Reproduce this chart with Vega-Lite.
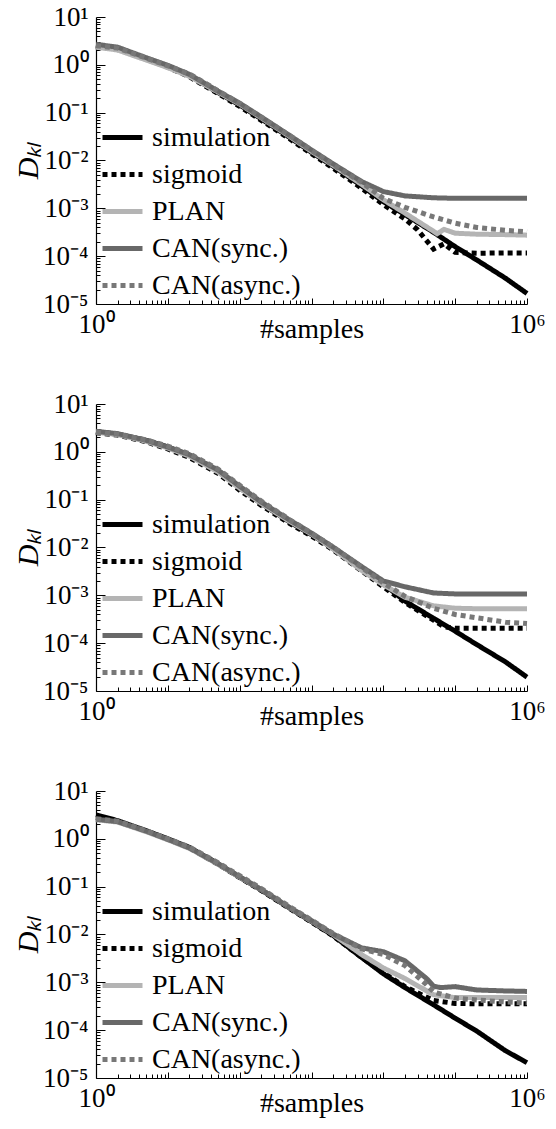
{
  "$schema": "https://vega.github.io/schema/vega-lite/v6.json",
  "autosize": {"type": "none"},
  "padding": {"left": 96, "top": 17, "right": 460, "bottom": 1112},
  "background": "white",
  "config": {
    "view": {"stroke": null},
    "font": "Liberation Serif",
    "axis": {"grid": false, "domainColor": "black", "domainWidth": 1.2, "tickColor": "black", "tickWidth": 1, "labelFont": "Liberation Serif", "labelFontSize": 27, "labelColor": "black", "titleFont": "Liberation Serif", "titleColor": "black", "titleFontWeight": "normal", "labelOverlap": false, "labelFlush": false},
    "legend": {"orient": "none", "legendX": 4, "legendY": 98, "symbolType": "stroke", "symbolSize": 1600, "symbolStrokeWidth": 5, "labelFont": "Liberation Serif", "labelFontSize": 28, "labelColor": "black", "labelOffset": 7, "rowPadding": -2.6, "padding": 0, "labelLimit": 300}
  },
  "datasets": {
    "d": [
      {"panel":1,"method":"simulation","n":1,"kl":2.57},{"panel":1,"method":"simulation","n":2,"kl":2.19},{"panel":1,"method":"simulation","n":5,"kl":1.35},{"panel":1,"method":"simulation","n":10,"kl":0.933},{"panel":1,"method":"simulation","n":20,"kl":0.603},{"panel":1,"method":"simulation","n":50,"kl":0.263},{"panel":1,"method":"simulation","n":100,"kl":0.145},{"panel":1,"method":"simulation","n":200,"kl":0.0741},{"panel":1,"method":"simulation","n":500,"kl":0.0302},{"panel":1,"method":"simulation","n":1000,"kl":0.0148},{"panel":1,"method":"simulation","n":2000,"kl":0.00759},{"panel":1,"method":"simulation","n":5000,"kl":0.00295},{"panel":1,"method":"simulation","n":10000,"kl":0.00138},{"panel":1,"method":"simulation","n":20000,"kl":0.000741},{"panel":1,"method":"simulation","n":50000,"kl":0.000316},{"panel":1,"method":"simulation","n":100000,"kl":0.000158},{"panel":1,"method":"simulation","n":200000,"kl":0.0000832},{"panel":1,"method":"simulation","n":500000,"kl":0.0000347},{"panel":1,"method":"simulation","n":1000000,"kl":0.0000166},
      {"panel":1,"method":"sigmoid","n":1,"kl":2.40},{"panel":1,"method":"sigmoid","n":2,"kl":2.09},{"panel":1,"method":"sigmoid","n":5,"kl":1.32},{"panel":1,"method":"sigmoid","n":10,"kl":0.891},{"panel":1,"method":"sigmoid","n":20,"kl":0.562},{"panel":1,"method":"sigmoid","n":50,"kl":0.251},{"panel":1,"method":"sigmoid","n":100,"kl":0.135},{"panel":1,"method":"sigmoid","n":200,"kl":0.0692},{"panel":1,"method":"sigmoid","n":500,"kl":0.0282},{"panel":1,"method":"sigmoid","n":1000,"kl":0.0138},{"panel":1,"method":"sigmoid","n":2000,"kl":0.00692},{"panel":1,"method":"sigmoid","n":5000,"kl":0.00263},{"panel":1,"method":"sigmoid","n":10000,"kl":0.00120},{"panel":1,"method":"sigmoid","n":20000,"kl":0.000603},{"panel":1,"method":"sigmoid","n":30000,"kl":0.000355},{"panel":1,"method":"sigmoid","n":50000,"kl":0.000141},{"panel":1,"method":"sigmoid","n":70000,"kl":0.000182},{"panel":1,"method":"sigmoid","n":100000,"kl":0.000120},{"panel":1,"method":"sigmoid","n":200000,"kl":0.000115},{"panel":1,"method":"sigmoid","n":500000,"kl":0.000117},{"panel":1,"method":"sigmoid","n":1000000,"kl":0.000117},
      {"panel":1,"method":"PLAN","n":1,"kl":2.34},{"panel":1,"method":"PLAN","n":2,"kl":2.04},{"panel":1,"method":"PLAN","n":5,"kl":1.26},{"panel":1,"method":"PLAN","n":10,"kl":0.871},{"panel":1,"method":"PLAN","n":20,"kl":0.575},{"panel":1,"method":"PLAN","n":50,"kl":0.269},{"panel":1,"method":"PLAN","n":100,"kl":0.151},{"panel":1,"method":"PLAN","n":200,"kl":0.0776},{"panel":1,"method":"PLAN","n":500,"kl":0.0316},{"panel":1,"method":"PLAN","n":1000,"kl":0.0155},{"panel":1,"method":"PLAN","n":2000,"kl":0.00794},{"panel":1,"method":"PLAN","n":5000,"kl":0.00316},{"panel":1,"method":"PLAN","n":10000,"kl":0.00151},{"panel":1,"method":"PLAN","n":20000,"kl":0.000794},{"panel":1,"method":"PLAN","n":50000,"kl":0.000331},{"panel":1,"method":"PLAN","n":56000,"kl":0.000295},{"panel":1,"method":"PLAN","n":70000,"kl":0.000363},{"panel":1,"method":"PLAN","n":100000,"kl":0.000302},{"panel":1,"method":"PLAN","n":200000,"kl":0.000288},{"panel":1,"method":"PLAN","n":500000,"kl":0.000282},{"panel":1,"method":"PLAN","n":1000000,"kl":0.000275},
      {"panel":1,"method":"CAN(sync.)","n":1,"kl":2.69},{"panel":1,"method":"CAN(sync.)","n":2,"kl":2.34},{"panel":1,"method":"CAN(sync.)","n":5,"kl":1.41},{"panel":1,"method":"CAN(sync.)","n":10,"kl":0.977},{"panel":1,"method":"CAN(sync.)","n":20,"kl":0.631},{"panel":1,"method":"CAN(sync.)","n":50,"kl":0.282},{"panel":1,"method":"CAN(sync.)","n":100,"kl":0.158},{"panel":1,"method":"CAN(sync.)","n":200,"kl":0.0813},{"panel":1,"method":"CAN(sync.)","n":500,"kl":0.0331},{"panel":1,"method":"CAN(sync.)","n":1000,"kl":0.0166},{"panel":1,"method":"CAN(sync.)","n":2000,"kl":0.00851},{"panel":1,"method":"CAN(sync.)","n":5000,"kl":0.00363},{"panel":1,"method":"CAN(sync.)","n":10000,"kl":0.00224},{"panel":1,"method":"CAN(sync.)","n":20000,"kl":0.00182},{"panel":1,"method":"CAN(sync.)","n":50000,"kl":0.00166},{"panel":1,"method":"CAN(sync.)","n":100000,"kl":0.00162},{"panel":1,"method":"CAN(sync.)","n":200000,"kl":0.00162},{"panel":1,"method":"CAN(sync.)","n":500000,"kl":0.00162},{"panel":1,"method":"CAN(sync.)","n":1000000,"kl":0.00162},
      {"panel":1,"method":"CAN(async.)","n":1,"kl":2.51},{"panel":1,"method":"CAN(async.)","n":2,"kl":2.24},{"panel":1,"method":"CAN(async.)","n":5,"kl":1.38},{"panel":1,"method":"CAN(async.)","n":10,"kl":0.955},{"panel":1,"method":"CAN(async.)","n":20,"kl":0.646},{"panel":1,"method":"CAN(async.)","n":50,"kl":0.288},{"panel":1,"method":"CAN(async.)","n":100,"kl":0.155},{"panel":1,"method":"CAN(async.)","n":200,"kl":0.0794},{"panel":1,"method":"CAN(async.)","n":500,"kl":0.0331},{"panel":1,"method":"CAN(async.)","n":1000,"kl":0.0162},{"panel":1,"method":"CAN(async.)","n":2000,"kl":0.00813},{"panel":1,"method":"CAN(async.)","n":5000,"kl":0.00347},{"panel":1,"method":"CAN(async.)","n":10000,"kl":0.00162},{"panel":1,"method":"CAN(async.)","n":20000,"kl":0.00105},{"panel":1,"method":"CAN(async.)","n":50000,"kl":0.000661},{"panel":1,"method":"CAN(async.)","n":100000,"kl":0.000490},{"panel":1,"method":"CAN(async.)","n":200000,"kl":0.000398},{"panel":1,"method":"CAN(async.)","n":500000,"kl":0.000347},{"panel":1,"method":"CAN(async.)","n":1000000,"kl":0.000324},

      {"panel":2,"method":"simulation","n":1,"kl":2.63},{"panel":2,"method":"simulation","n":2,"kl":2.34},{"panel":2,"method":"simulation","n":5,"kl":1.74},{"panel":2,"method":"simulation","n":10,"kl":1.26},{"panel":2,"method":"simulation","n":20,"kl":0.851},{"panel":2,"method":"simulation","n":50,"kl":0.398},{"panel":2,"method":"simulation","n":100,"kl":0.178},{"panel":2,"method":"simulation","n":200,"kl":0.0832},{"panel":2,"method":"simulation","n":500,"kl":0.0339},{"panel":2,"method":"simulation","n":1000,"kl":0.0186},{"panel":2,"method":"simulation","n":2000,"kl":0.00955},{"panel":2,"method":"simulation","n":5000,"kl":0.00355},{"panel":2,"method":"simulation","n":10000,"kl":0.00174},{"panel":2,"method":"simulation","n":20000,"kl":0.000759},{"panel":2,"method":"simulation","n":50000,"kl":0.000331},{"panel":2,"method":"simulation","n":100000,"kl":0.000178},{"panel":2,"method":"simulation","n":200000,"kl":0.0000933},{"panel":2,"method":"simulation","n":500000,"kl":0.0000407},{"panel":2,"method":"simulation","n":1000000,"kl":0.0000195},
      {"panel":2,"method":"sigmoid","n":1,"kl":2.51},{"panel":2,"method":"sigmoid","n":2,"kl":2.24},{"panel":2,"method":"sigmoid","n":5,"kl":1.62},{"panel":2,"method":"sigmoid","n":10,"kl":1.15},{"panel":2,"method":"sigmoid","n":20,"kl":0.759},{"panel":2,"method":"sigmoid","n":50,"kl":0.355},{"panel":2,"method":"sigmoid","n":100,"kl":0.158},{"panel":2,"method":"sigmoid","n":200,"kl":0.0759},{"panel":2,"method":"sigmoid","n":500,"kl":0.0316},{"panel":2,"method":"sigmoid","n":1000,"kl":0.0174},{"panel":2,"method":"sigmoid","n":2000,"kl":0.00891},{"panel":2,"method":"sigmoid","n":5000,"kl":0.00324},{"panel":2,"method":"sigmoid","n":10000,"kl":0.00151},{"panel":2,"method":"sigmoid","n":20000,"kl":0.000708},{"panel":2,"method":"sigmoid","n":50000,"kl":0.000302},{"panel":2,"method":"sigmoid","n":70000,"kl":0.000219},{"panel":2,"method":"sigmoid","n":100000,"kl":0.000204},{"panel":2,"method":"sigmoid","n":200000,"kl":0.000204},{"panel":2,"method":"sigmoid","n":500000,"kl":0.000204},{"panel":2,"method":"sigmoid","n":1000000,"kl":0.000204},
      {"panel":2,"method":"PLAN","n":1,"kl":2.57},{"panel":2,"method":"PLAN","n":2,"kl":2.29},{"panel":2,"method":"PLAN","n":5,"kl":1.66},{"panel":2,"method":"PLAN","n":10,"kl":1.20},{"panel":2,"method":"PLAN","n":20,"kl":0.813},{"panel":2,"method":"PLAN","n":50,"kl":0.380},{"panel":2,"method":"PLAN","n":100,"kl":0.174},{"panel":2,"method":"PLAN","n":200,"kl":0.0832},{"panel":2,"method":"PLAN","n":500,"kl":0.0347},{"panel":2,"method":"PLAN","n":1000,"kl":0.0191},{"panel":2,"method":"PLAN","n":2000,"kl":0.00933},{"panel":2,"method":"PLAN","n":5000,"kl":0.00331},{"panel":2,"method":"PLAN","n":10000,"kl":0.00166},{"panel":2,"method":"PLAN","n":20000,"kl":0.000912},{"panel":2,"method":"PLAN","n":50000,"kl":0.000603},{"panel":2,"method":"PLAN","n":100000,"kl":0.000537},{"panel":2,"method":"PLAN","n":200000,"kl":0.000525},{"panel":2,"method":"PLAN","n":500000,"kl":0.000525},{"panel":2,"method":"PLAN","n":1000000,"kl":0.000525},
      {"panel":2,"method":"CAN(sync.)","n":1,"kl":2.69},{"panel":2,"method":"CAN(sync.)","n":2,"kl":2.40},{"panel":2,"method":"CAN(sync.)","n":5,"kl":1.74},{"panel":2,"method":"CAN(sync.)","n":10,"kl":1.26},{"panel":2,"method":"CAN(sync.)","n":20,"kl":0.871},{"panel":2,"method":"CAN(sync.)","n":50,"kl":0.417},{"panel":2,"method":"CAN(sync.)","n":100,"kl":0.191},{"panel":2,"method":"CAN(sync.)","n":200,"kl":0.0891},{"panel":2,"method":"CAN(sync.)","n":500,"kl":0.0372},{"panel":2,"method":"CAN(sync.)","n":1000,"kl":0.0200},{"panel":2,"method":"CAN(sync.)","n":2000,"kl":0.0102},{"panel":2,"method":"CAN(sync.)","n":5000,"kl":0.00398},{"panel":2,"method":"CAN(sync.)","n":10000,"kl":0.00200},{"panel":2,"method":"CAN(sync.)","n":20000,"kl":0.00151},{"panel":2,"method":"CAN(sync.)","n":50000,"kl":0.00112},{"panel":2,"method":"CAN(sync.)","n":100000,"kl":0.00107},{"panel":2,"method":"CAN(sync.)","n":200000,"kl":0.00107},{"panel":2,"method":"CAN(sync.)","n":500000,"kl":0.00107},{"panel":2,"method":"CAN(sync.)","n":1000000,"kl":0.00107},
      {"panel":2,"method":"CAN(async.)","n":1,"kl":2.57},{"panel":2,"method":"CAN(async.)","n":2,"kl":2.34},{"panel":2,"method":"CAN(async.)","n":5,"kl":1.78},{"panel":2,"method":"CAN(async.)","n":10,"kl":1.32},{"panel":2,"method":"CAN(async.)","n":20,"kl":0.912},{"panel":2,"method":"CAN(async.)","n":50,"kl":0.437},{"panel":2,"method":"CAN(async.)","n":100,"kl":0.200},{"panel":2,"method":"CAN(async.)","n":200,"kl":0.0933},{"panel":2,"method":"CAN(async.)","n":500,"kl":0.0380},{"panel":2,"method":"CAN(async.)","n":1000,"kl":0.0200},{"panel":2,"method":"CAN(async.)","n":2000,"kl":0.0102},{"panel":2,"method":"CAN(async.)","n":5000,"kl":0.00380},{"panel":2,"method":"CAN(async.)","n":10000,"kl":0.00182},{"panel":2,"method":"CAN(async.)","n":20000,"kl":0.000955},{"panel":2,"method":"CAN(async.)","n":50000,"kl":0.000537},{"panel":2,"method":"CAN(async.)","n":100000,"kl":0.000398},{"panel":2,"method":"CAN(async.)","n":200000,"kl":0.000339},{"panel":2,"method":"CAN(async.)","n":500000,"kl":0.000275},{"panel":2,"method":"CAN(async.)","n":1000000,"kl":0.000257},

      {"panel":3,"method":"simulation","n":1,"kl":3.16},{"panel":3,"method":"simulation","n":2,"kl":2.40},{"panel":3,"method":"simulation","n":5,"kl":1.48},{"panel":3,"method":"simulation","n":10,"kl":1.00},{"panel":3,"method":"simulation","n":20,"kl":0.661},{"panel":3,"method":"simulation","n":50,"kl":0.302},{"panel":3,"method":"simulation","n":100,"kl":0.158},{"panel":3,"method":"simulation","n":200,"kl":0.0851},{"panel":3,"method":"simulation","n":500,"kl":0.0355},{"panel":3,"method":"simulation","n":1000,"kl":0.0186},{"panel":3,"method":"simulation","n":2000,"kl":0.00955},{"panel":3,"method":"simulation","n":5000,"kl":0.00331},{"panel":3,"method":"simulation","n":10000,"kl":0.00151},{"panel":3,"method":"simulation","n":20000,"kl":0.000776},{"panel":3,"method":"simulation","n":50000,"kl":0.000339},{"panel":3,"method":"simulation","n":100000,"kl":0.000178},{"panel":3,"method":"simulation","n":200000,"kl":0.0000955},{"panel":3,"method":"simulation","n":500000,"kl":0.0000372},{"panel":3,"method":"simulation","n":1000000,"kl":0.0000209},
      {"panel":3,"method":"sigmoid","n":1,"kl":2.82},{"panel":3,"method":"sigmoid","n":2,"kl":2.29},{"panel":3,"method":"sigmoid","n":5,"kl":1.45},{"panel":3,"method":"sigmoid","n":10,"kl":0.977},{"panel":3,"method":"sigmoid","n":20,"kl":0.646},{"panel":3,"method":"sigmoid","n":50,"kl":0.295},{"panel":3,"method":"sigmoid","n":100,"kl":0.155},{"panel":3,"method":"sigmoid","n":200,"kl":0.0832},{"panel":3,"method":"sigmoid","n":500,"kl":0.0347},{"panel":3,"method":"sigmoid","n":1000,"kl":0.0182},{"panel":3,"method":"sigmoid","n":2000,"kl":0.00933},{"panel":3,"method":"sigmoid","n":5000,"kl":0.00331},{"panel":3,"method":"sigmoid","n":10000,"kl":0.00158},{"panel":3,"method":"sigmoid","n":20000,"kl":0.000813},{"panel":3,"method":"sigmoid","n":50000,"kl":0.000417},{"panel":3,"method":"sigmoid","n":100000,"kl":0.000363},{"panel":3,"method":"sigmoid","n":200000,"kl":0.000355},{"panel":3,"method":"sigmoid","n":500000,"kl":0.000355},{"panel":3,"method":"sigmoid","n":1000000,"kl":0.000355},
      {"panel":3,"method":"PLAN","n":1,"kl":2.51},{"panel":3,"method":"PLAN","n":2,"kl":2.24},{"panel":3,"method":"PLAN","n":5,"kl":1.41},{"panel":3,"method":"PLAN","n":10,"kl":0.955},{"panel":3,"method":"PLAN","n":20,"kl":0.631},{"panel":3,"method":"PLAN","n":50,"kl":0.295},{"panel":3,"method":"PLAN","n":100,"kl":0.158},{"panel":3,"method":"PLAN","n":200,"kl":0.0871},{"panel":3,"method":"PLAN","n":500,"kl":0.0363},{"panel":3,"method":"PLAN","n":1000,"kl":0.0191},{"panel":3,"method":"PLAN","n":2000,"kl":0.0100},{"panel":3,"method":"PLAN","n":5000,"kl":0.00380},{"panel":3,"method":"PLAN","n":10000,"kl":0.00200},{"panel":3,"method":"PLAN","n":20000,"kl":0.00120},{"panel":3,"method":"PLAN","n":50000,"kl":0.000550},{"panel":3,"method":"PLAN","n":100000,"kl":0.000479},{"panel":3,"method":"PLAN","n":200000,"kl":0.000479},{"panel":3,"method":"PLAN","n":500000,"kl":0.000479},{"panel":3,"method":"PLAN","n":1000000,"kl":0.000479},
      {"panel":3,"method":"CAN(sync.)","n":1,"kl":2.57},{"panel":3,"method":"CAN(sync.)","n":2,"kl":2.29},{"panel":3,"method":"CAN(sync.)","n":5,"kl":1.45},{"panel":3,"method":"CAN(sync.)","n":10,"kl":0.977},{"panel":3,"method":"CAN(sync.)","n":20,"kl":0.646},{"panel":3,"method":"CAN(sync.)","n":50,"kl":0.302},{"panel":3,"method":"CAN(sync.)","n":100,"kl":0.162},{"panel":3,"method":"CAN(sync.)","n":200,"kl":0.0871},{"panel":3,"method":"CAN(sync.)","n":500,"kl":0.0363},{"panel":3,"method":"CAN(sync.)","n":1000,"kl":0.0195},{"panel":3,"method":"CAN(sync.)","n":2000,"kl":0.0102},{"panel":3,"method":"CAN(sync.)","n":5000,"kl":0.00525},{"panel":3,"method":"CAN(sync.)","n":10000,"kl":0.00437},{"panel":3,"method":"CAN(sync.)","n":20000,"kl":0.00282},{"panel":3,"method":"CAN(sync.)","n":40000,"kl":0.00120},{"panel":3,"method":"CAN(sync.)","n":50000,"kl":0.000832},{"panel":3,"method":"CAN(sync.)","n":63000,"kl":0.000776},{"panel":3,"method":"CAN(sync.)","n":100000,"kl":0.000813},{"panel":3,"method":"CAN(sync.)","n":200000,"kl":0.000692},{"panel":3,"method":"CAN(sync.)","n":500000,"kl":0.000661},{"panel":3,"method":"CAN(sync.)","n":1000000,"kl":0.000646},
      {"panel":3,"method":"CAN(async.)","n":1,"kl":2.63},{"panel":3,"method":"CAN(async.)","n":2,"kl":2.34},{"panel":3,"method":"CAN(async.)","n":5,"kl":1.48},{"panel":3,"method":"CAN(async.)","n":10,"kl":1.00},{"panel":3,"method":"CAN(async.)","n":20,"kl":0.676},{"panel":3,"method":"CAN(async.)","n":50,"kl":0.316},{"panel":3,"method":"CAN(async.)","n":100,"kl":0.170},{"panel":3,"method":"CAN(async.)","n":200,"kl":0.0912},{"panel":3,"method":"CAN(async.)","n":500,"kl":0.0380},{"panel":3,"method":"CAN(async.)","n":1000,"kl":0.0200},{"panel":3,"method":"CAN(async.)","n":2000,"kl":0.0105},{"panel":3,"method":"CAN(async.)","n":5000,"kl":0.00501},{"panel":3,"method":"CAN(async.)","n":10000,"kl":0.00380},{"panel":3,"method":"CAN(async.)","n":20000,"kl":0.00224},{"panel":3,"method":"CAN(async.)","n":40000,"kl":0.000891},{"panel":3,"method":"CAN(async.)","n":50000,"kl":0.000631},{"panel":3,"method":"CAN(async.)","n":100000,"kl":0.000468},{"panel":3,"method":"CAN(async.)","n":200000,"kl":0.000427},{"panel":3,"method":"CAN(async.)","n":500000,"kl":0.000389},{"panel":3,"method":"CAN(async.)","n":1000000,"kl":0.000372}
    ]
  },
  "spacing": 100,
  "bounds": "flush",
  "resolve": {"scale": {"color": "independent", "strokeDash": "independent"}, "legend": {"color": "independent", "strokeDash": "independent"}},
  "vconcat": [
    {
      "width": 431, "height": 287,
      "data": {"name": "d"},
      "transform": [{"filter": "datum.panel == 1"}],
      "mark": {"type": "line", "strokeWidth": 5, "strokeCap": "butt"},
      "encoding": {
        "x": {"field": "n", "type": "quantitative", "scale": {"type": "log", "domain": [1, 1000000], "nice": false},
          "axis": {"values": [1,2,3,4,5,6,7,8,9,10,20,30,40,50,60,70,80,90,100,200,300,400,500,600,700,800,900,1000,2000,3000,4000,5000,6000,7000,8000,9000,10000,20000,30000,40000,50000,60000,70000,80000,90000,100000,200000,300000,400000,500000,600000,700000,800000,900000,1000000],
            "labelExpr": "datum.value == 1 ? '10⁰' : datum.value == 1000000 ? '10⁶' : ''",
            "tickSize": {"condition": {"test": "abs(log(datum.value)/LN10 - round(log(datum.value)/LN10)) < 0.0001", "value": -6}, "value": -4},
            "labelPadding": 13, "title": "#samples", "titleFontSize": 28, "titleY": 25, "titleBaseline": "middle"}},
        "y": {"field": "kl", "type": "quantitative", "scale": {"type": "log", "domain": [0.00001, 10], "nice": false},
          "axis": {"values": [0.00001,0.00002,0.00003,0.00004,0.00005,0.00006,0.00007,0.00008,0.00009,0.0001,0.0002,0.0003,0.0004,0.0005,0.0006,0.0007,0.0008,0.0009,0.001,0.002,0.003,0.004,0.005,0.006,0.007,0.008,0.009,0.01,0.02,0.03,0.04,0.05,0.06,0.07,0.08,0.09,0.1,0.2,0.3,0.4,0.5,0.6,0.7,0.8,0.9,1,2,3,4,5,6,7,8,9,10],
            "labelExpr": "datum.value == 10 ? '10¹' : datum.value == 1 ? '10⁰' : datum.value == 0.1 ? '10⁻¹' : datum.value == 0.01 ? '10⁻²' : datum.value == 0.001 ? '10⁻³' : datum.value == 0.0001 ? '10⁻⁴' : datum.value == 0.00001 ? '10⁻⁵' : ''",
            "tickSize": {"condition": {"test": "abs(log(datum.value)/LN10 - round(log(datum.value)/LN10)) < 0.0001", "value": -9}, "value": -4},
            "labelPadding": 17, "title": "Dₖₗ", "titleFontSize": 30, "titleFontStyle": "italic", "titleX": -68, "titleY": 143.5, "titleAngle": 270, "titleBaseline": "middle", "titleAlign": "center"}},
        "color": {"field": "method", "type": "nominal", "scale": {"domain": ["simulation", "sigmoid", "PLAN", "CAN(sync.)", "CAN(async.)"], "range": ["#000000", "#000000", "#b4b4b4", "#686868", "#787878"]}, "legend": {"title": null}},
        "strokeDash": {"field": "method", "type": "nominal", "scale": {"domain": ["simulation", "sigmoid", "PLAN", "CAN(sync.)", "CAN(async.)"], "range": [[1, 0], [5, 4], [1, 0], [1, 0], [5, 4]]}, "legend": {"title": null}}
      }
    },
    {
      "width": 431, "height": 287,
      "data": {"name": "d"},
      "transform": [{"filter": "datum.panel == 2"}],
      "mark": {"type": "line", "strokeWidth": 5, "strokeCap": "butt"},
      "encoding": {
        "x": {"field": "n", "type": "quantitative", "scale": {"type": "log", "domain": [1, 1000000], "nice": false},
          "axis": {"values": [1,2,3,4,5,6,7,8,9,10,20,30,40,50,60,70,80,90,100,200,300,400,500,600,700,800,900,1000,2000,3000,4000,5000,6000,7000,8000,9000,10000,20000,30000,40000,50000,60000,70000,80000,90000,100000,200000,300000,400000,500000,600000,700000,800000,900000,1000000],
            "labelExpr": "datum.value == 1 ? '10⁰' : datum.value == 1000000 ? '10⁶' : ''",
            "tickSize": {"condition": {"test": "abs(log(datum.value)/LN10 - round(log(datum.value)/LN10)) < 0.0001", "value": -6}, "value": -4},
            "labelPadding": 13, "title": "#samples", "titleFontSize": 28, "titleY": 25, "titleBaseline": "middle"}},
        "y": {"field": "kl", "type": "quantitative", "scale": {"type": "log", "domain": [0.00001, 10], "nice": false},
          "axis": {"values": [0.00001,0.00002,0.00003,0.00004,0.00005,0.00006,0.00007,0.00008,0.00009,0.0001,0.0002,0.0003,0.0004,0.0005,0.0006,0.0007,0.0008,0.0009,0.001,0.002,0.003,0.004,0.005,0.006,0.007,0.008,0.009,0.01,0.02,0.03,0.04,0.05,0.06,0.07,0.08,0.09,0.1,0.2,0.3,0.4,0.5,0.6,0.7,0.8,0.9,1,2,3,4,5,6,7,8,9,10],
            "labelExpr": "datum.value == 10 ? '10¹' : datum.value == 1 ? '10⁰' : datum.value == 0.1 ? '10⁻¹' : datum.value == 0.01 ? '10⁻²' : datum.value == 0.001 ? '10⁻³' : datum.value == 0.0001 ? '10⁻⁴' : datum.value == 0.00001 ? '10⁻⁵' : ''",
            "tickSize": {"condition": {"test": "abs(log(datum.value)/LN10 - round(log(datum.value)/LN10)) < 0.0001", "value": -9}, "value": -4},
            "labelPadding": 17, "title": "Dₖₗ", "titleFontSize": 30, "titleFontStyle": "italic", "titleX": -68, "titleY": 143.5, "titleAngle": 270, "titleBaseline": "middle", "titleAlign": "center"}},
        "color": {"field": "method", "type": "nominal", "scale": {"domain": ["simulation", "sigmoid", "PLAN", "CAN(sync.)", "CAN(async.)"], "range": ["#000000", "#000000", "#b4b4b4", "#686868", "#787878"]}, "legend": {"title": null}},
        "strokeDash": {"field": "method", "type": "nominal", "scale": {"domain": ["simulation", "sigmoid", "PLAN", "CAN(sync.)", "CAN(async.)"], "range": [[1, 0], [5, 4], [1, 0], [1, 0], [5, 4]]}, "legend": {"title": null}}
      }
    },
    {
      "width": 431, "height": 287,
      "data": {"name": "d"},
      "transform": [{"filter": "datum.panel == 3"}],
      "mark": {"type": "line", "strokeWidth": 5, "strokeCap": "butt"},
      "encoding": {
        "x": {"field": "n", "type": "quantitative", "scale": {"type": "log", "domain": [1, 1000000], "nice": false},
          "axis": {"values": [1,2,3,4,5,6,7,8,9,10,20,30,40,50,60,70,80,90,100,200,300,400,500,600,700,800,900,1000,2000,3000,4000,5000,6000,7000,8000,9000,10000,20000,30000,40000,50000,60000,70000,80000,90000,100000,200000,300000,400000,500000,600000,700000,800000,900000,1000000],
            "labelExpr": "datum.value == 1 ? '10⁰' : datum.value == 1000000 ? '10⁶' : ''",
            "tickSize": {"condition": {"test": "abs(log(datum.value)/LN10 - round(log(datum.value)/LN10)) < 0.0001", "value": -6}, "value": -4},
            "labelPadding": 13, "title": "#samples", "titleFontSize": 28, "titleY": 25, "titleBaseline": "middle"}},
        "y": {"field": "kl", "type": "quantitative", "scale": {"type": "log", "domain": [0.00001, 10], "nice": false},
          "axis": {"values": [0.00001,0.00002,0.00003,0.00004,0.00005,0.00006,0.00007,0.00008,0.00009,0.0001,0.0002,0.0003,0.0004,0.0005,0.0006,0.0007,0.0008,0.0009,0.001,0.002,0.003,0.004,0.005,0.006,0.007,0.008,0.009,0.01,0.02,0.03,0.04,0.05,0.06,0.07,0.08,0.09,0.1,0.2,0.3,0.4,0.5,0.6,0.7,0.8,0.9,1,2,3,4,5,6,7,8,9,10],
            "labelExpr": "datum.value == 10 ? '10¹' : datum.value == 1 ? '10⁰' : datum.value == 0.1 ? '10⁻¹' : datum.value == 0.01 ? '10⁻²' : datum.value == 0.001 ? '10⁻³' : datum.value == 0.0001 ? '10⁻⁴' : datum.value == 0.00001 ? '10⁻⁵' : ''",
            "tickSize": {"condition": {"test": "abs(log(datum.value)/LN10 - round(log(datum.value)/LN10)) < 0.0001", "value": -9}, "value": -4},
            "labelPadding": 17, "title": "Dₖₗ", "titleFontSize": 30, "titleFontStyle": "italic", "titleX": -68, "titleY": 143.5, "titleAngle": 270, "titleBaseline": "middle", "titleAlign": "center"}},
        "color": {"field": "method", "type": "nominal", "scale": {"domain": ["simulation", "sigmoid", "PLAN", "CAN(sync.)", "CAN(async.)"], "range": ["#000000", "#000000", "#b4b4b4", "#686868", "#787878"]}, "legend": {"title": null}},
        "strokeDash": {"field": "method", "type": "nominal", "scale": {"domain": ["simulation", "sigmoid", "PLAN", "CAN(sync.)", "CAN(async.)"], "range": [[1, 0], [5, 4], [1, 0], [1, 0], [5, 4]]}, "legend": {"title": null}}
      }
    }
  ]
}
